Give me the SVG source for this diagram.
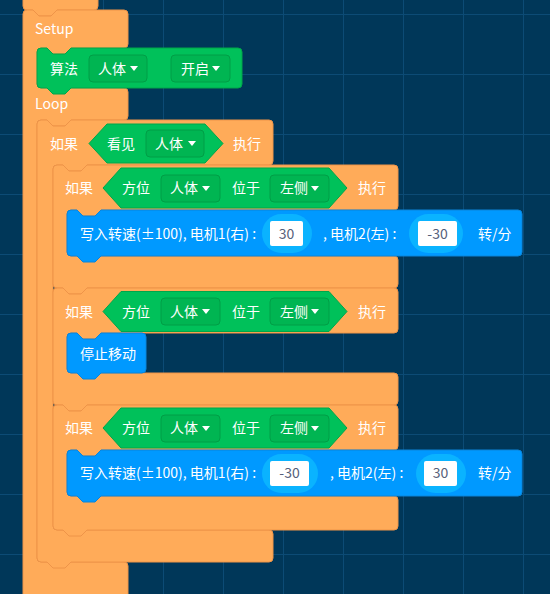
<svg xmlns="http://www.w3.org/2000/svg" width="550" height="594" viewBox="0 0 550 594">
<defs>
<style>
.bg{fill:#003759}
.grid{stroke:#0c4b75;stroke-width:1}
.orange{fill:#FFAB59;stroke:#EE9449;stroke-width:1}
.green{fill:#00C15A;stroke:#00A64B;stroke-width:1}
.blue{fill:#0099FF;stroke:#0A84DA;stroke-width:1}
.dd{fill:#00B552;stroke:#009E46;stroke-width:1}
.cap{fill:#0AB3FF}
.box{fill:#FFFFFF}
.tri{fill:#FFFFFF}
.t{font-family:"Noto Sans CJK SC","Noto Sans",sans-serif;font-size:14px;fill:#FFFFFF}
.v{font-family:"Noto Sans CJK SC","Noto Sans",sans-serif;font-size:14px;fill:#55607A;text-anchor:middle}
</style>
</defs>
<rect class="bg" x="0" y="0" width="550" height="594"/>
<g id="grid">
<path class="grid" d="M43.5,0V594M103.5,0V594M163.5,0V594M223.5,0V594M283.5,0V594M343.5,0V594M403.5,0V594M463.5,0V594M523.5,0V594M0,14.5H550M0,74.5H550M0,134.5H550M0,194.5H550M0,254.5H550M0,314.5H550M0,374.5H550M0,434.5H550M0,494.5H550M0,554.5H550"/>
</g>
<g id="connectors"></g>
<g id="prev-block">
<path class="orange" d="M23,-2 V6 Q23,10 27,10 H33 L39,16 H51 L57,10 H94 Q98,10 98,6 V-2 Z"/>
</g>
<g id="setup">
<path class="orange" d="M27,10 H33 L39,16 H51 L57,10 H124 Q128,10 128,14 V44 Q128,48 124,48 H71 L65,54 H53 L47,48 H41 Q37,48 37,52 V84 Q37,88 41,88 H124 Q128,88 128,92 V116 Q128,120 124,120 H71 L65,126 H53 L47,120 H41 Q37,120 37,124 V558 Q37,562 41,562 H124 Q128,562 128,566 V600 H23 V14 Q23,10 27,10 Z"/>
<text class="t" x="35" y="34">Setup</text>
<text class="t" x="35" y="109">Loop</text>
</g>
<g id="algo">
<path class="green" d="M41,48 H47 L53,54 H65 L71,48 H238 Q242,48 242,52 V84 Q242,88 238,88 H71 L65,94 H53 L47,88 H41 Q37,88 37,84 V52 Q37,48 41,48 Z"/>
<text class="t" x="50" y="73.5">算法</text>
<rect class="dd" x="89" y="55" width="58" height="27" rx="4"/>
<text class="t" x="98" y="73.5">人体</text>
<path class="tri" d="M130,66 h8 l-4,5 z"/>
<rect class="dd" x="171" y="55" width="59" height="27" rx="4"/>
<text class="t" x="181" y="73.5">开启</text>
<path class="tri" d="M212,66 h8 l-4,5 z"/>
</g>
<g id="if-see">
<path class="orange" d="M41,120 H47 L53,126 H65 L71,120 H269 Q273,120 273,124 V161 Q273,165 269,165 H87 L81,171 H69 L63,165 H57 Q53,165 53,169 V526 Q53,530 57,530 H269 Q273,530 273,534 V558 Q273,562 269,562 H71 L65,568 H53 L47,562 H41 Q37,562 37,558 V124 Q37,120 41,120 Z"/>
<text class="t" x="50" y="148.5">如果</text>
<path class="green" d="M89,143.5 L107,124 H205 L223,143.5 L205,163 H107 Z"/>
<text class="t" x="107" y="148.5">看见</text>
<rect class="dd" x="146" y="130" width="58" height="27" rx="4"/>
<text class="t" x="155" y="148.5">人体</text>
<path class="tri" d="M188,141 h8 l-4,5 z"/>
<text class="t" x="233" y="148.5">执行</text>
</g>
<g id="if-dir-1">
<path class="orange" d="M57,165 H63 L69,171 H81 L87,165 H394 Q398,165 398,169 V206 Q398,210 394,210 H101 L95,216 H83 L77,210 H71 Q67,210 67,214 V252 Q67,256 71,256 H394 Q398,256 398,260 V284 Q398,288 394,288 H87 L81,294 H69 L63,288 H57 Q53,288 53,284 V169 Q53,165 57,165 Z"/>
<text class="t" x="65" y="193">如果</text>
<path class="green" d="M103,188 L121,168 H329 L347,188 L329,208 H121 Z"/>
<text class="t" x="122" y="193">方位</text>
<rect class="dd" x="161" y="175" width="59" height="27" rx="4"/>
<text class="t" x="170" y="193">人体</text>
<path class="tri" d="M202,186 h8 l-4,5 z"/>
<text class="t" x="232" y="193">位于</text>
<rect class="dd" x="270" y="175" width="59" height="27" rx="4"/>
<text class="t" x="280" y="193">左侧</text>
<path class="tri" d="M311,186 h8 l-4,5 z"/>
<text class="t" x="358" y="193">执行</text>
</g>
<g id="speed-1">
<path class="blue" d="M71,210 H77 L83,216 H95 L101,210 H518 Q522,210 522,214 V252 Q522,256 518,256 H101 L95,262 H83 L77,256 H71 Q67,256 67,252 V214 Q67,210 71,210 Z"/>
<text class="t" x="80" y="238.5">写入转速(±100), 电机1(右) :</text>
<rect class="cap" x="262" y="214" width="50" height="39" rx="19.5"/>
<rect class="box" x="270" y="221" width="33" height="25" rx="2"/>
<text class="v" x="286.5" y="238.5">30</text>
<text class="t" x="323" y="238.5">, 电机2(左) :</text>
<rect class="cap" x="409" y="214" width="54" height="39" rx="19.5"/>
<rect class="box" x="418" y="221" width="39" height="25" rx="2"/>
<text class="v" x="437.5" y="238.5">-30</text>
<text class="t" x="478" y="238.5">转/分</text>
</g>
<g id="if-dir-2">
<path class="orange" d="M57,288 H63 L69,294 H81 L87,288 H394 Q398,288 398,292 V329 Q398,333 394,333 H101 L95,339 H83 L77,333 H71 Q67,333 67,337 V369 Q67,373 71,373 H394 Q398,373 398,377 V401 Q398,405 394,405 H87 L81,411 H69 L63,405 H57 Q53,405 53,401 V292 Q53,288 57,288 Z"/>
<text class="t" x="65" y="316.5">如果</text>
<path class="green" d="M103,311.5 L121,291.5 H329 L347,311.5 L329,331.5 H121 Z"/>
<text class="t" x="122" y="316.5">方位</text>
<rect class="dd" x="161" y="298" width="59" height="27" rx="4"/>
<text class="t" x="170" y="316.5">人体</text>
<path class="tri" d="M202,309 h8 l-4,5 z"/>
<text class="t" x="232" y="316.5">位于</text>
<rect class="dd" x="270" y="298" width="59" height="27" rx="4"/>
<text class="t" x="280" y="316.5">左侧</text>
<path class="tri" d="M311,309 h8 l-4,5 z"/>
<text class="t" x="358" y="316.5">执行</text>
</g>
<g id="stop">
<path class="blue" d="M71,333 H77 L83,339 H95 L101,333 H142 Q146,333 146,337 V369 Q146,373 142,373 H101 L95,379 H83 L77,373 H71 Q67,373 67,369 V337 Q67,333 71,333 Z"/>
<text class="t" x="80" y="358.5">停止移动</text>
</g>
<g id="if-dir-3">
<path class="orange" d="M57,405 H63 L69,411 H81 L87,405 H394 Q398,405 398,409 V446 Q398,450 394,450 H101 L95,456 H83 L77,450 H71 Q67,450 67,454 V492 Q67,496 71,496 H394 Q398,496 398,500 V526 Q398,530 394,530 H87 L81,536 H69 L63,530 H57 Q53,530 53,526 V409 Q53,405 57,405 Z"/>
<text class="t" x="65" y="433">如果</text>
<path class="green" d="M103,428 L121,408 H329 L347,428 L329,448 H121 Z"/>
<text class="t" x="122" y="433">方位</text>
<rect class="dd" x="161" y="415" width="59" height="27" rx="4"/>
<text class="t" x="170" y="433">人体</text>
<path class="tri" d="M202,426 h8 l-4,5 z"/>
<text class="t" x="232" y="433">位于</text>
<rect class="dd" x="270" y="415" width="59" height="27" rx="4"/>
<text class="t" x="280" y="433">左侧</text>
<path class="tri" d="M311,426 h8 l-4,5 z"/>
<text class="t" x="358" y="433">执行</text>
</g>
<g id="speed-2">
<path class="blue" d="M71,450 H77 L83,456 H95 L101,450 H518 Q522,450 522,454 V492 Q522,496 518,496 H101 L95,502 H83 L77,496 H71 Q67,496 67,492 V454 Q67,450 71,450 Z"/>
<text class="t" x="80" y="478">写入转速(±100), 电机1(右) :</text>
<rect class="cap" x="262" y="454" width="56" height="39" rx="19.5"/>
<rect class="box" x="270" y="461" width="39" height="25" rx="2"/>
<text class="v" x="289.5" y="478">-30</text>
<text class="t" x="330" y="478">, 电机2(左) :</text>
<rect class="cap" x="416" y="454" width="50" height="39" rx="19.5"/>
<rect class="box" x="424" y="461" width="33" height="25" rx="2"/>
<text class="v" x="440.5" y="478">30</text>
<text class="t" x="478" y="478">转/分</text>
</g>
</svg>
